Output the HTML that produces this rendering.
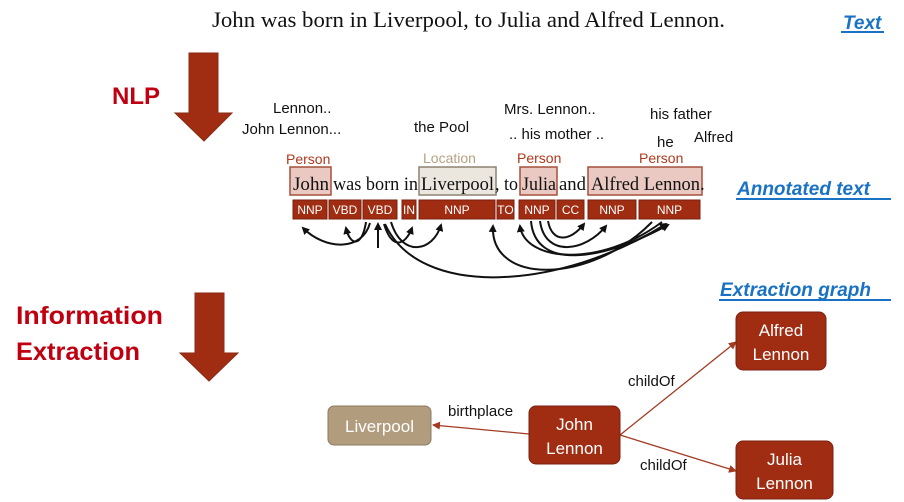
<!DOCTYPE html>
<html><head><meta charset="utf-8"><style>
html,body{margin:0;padding:0;background:#fff}
svg{display:block}
.s{font-family:"Liberation Serif",serif;fill:#111}
.c{font-family:"Liberation Sans",sans-serif}
</style></head><body>
<svg width="904" height="502" viewBox="0 0 904 502" xmlns="http://www.w3.org/2000/svg">
<defs>
<marker id="ab" markerWidth="8" markerHeight="8" refX="6" refY="4" orient="auto" markerUnits="userSpaceOnUse"><path d="M0,0 L8,4 L0,8 z" fill="#111"/></marker>
<marker id="ar" markerWidth="8" markerHeight="8" refX="7" refY="4" orient="auto" markerUnits="userSpaceOnUse"><path d="M0,0 L8,4 L0,8 z" fill="#a33a22"/></marker>
</defs>
<text class="s" x="212" y="27" font-size="22" textLength="513" lengthAdjust="spacingAndGlyphs">John was born in Liverpool, to Julia and Alfred Lennon.</text>
<text class="c" x="843" y="29" font-size="19" font-weight="bold" font-style="italic" fill="#1a72c4">Text</text>
<rect x="841" y="31" width="43" height="2" fill="#1a72c4"/>

<path d="M189,53 H218 V113 H232 L204,141 L175,113 H189 Z" fill="#a02d12" stroke="#8a2a14"/>
<path d="M195,293 H224 V353 H238 L209,381 L180,353 H195 Z" fill="#a02d12" stroke="#8a2a14"/>
<text class="c" x="112" y="104" font-size="24" font-weight="bold" fill="#c00010">NLP</text>
<text class="c" x="16" y="324" font-size="25" font-weight="bold" fill="#c00010" textLength="147" lengthAdjust="spacingAndGlyphs">Information</text>
<text class="c" x="16" y="360" font-size="25" font-weight="bold" fill="#c00010" textLength="124" lengthAdjust="spacingAndGlyphs">Extraction</text>

<g class="c" font-size="15" fill="#111">
<text x="273" y="113">Lennon..</text>
<text x="242" y="134">John Lennon...</text>
<text x="414" y="132">the Pool</text>
<text x="504" y="114">Mrs. Lennon..</text>
<text x="509" y="139">.. his mother ..</text>
<text x="650" y="119">his father</text>
<text x="657" y="147">he</text>
<text x="694" y="142">Alfred</text>
</g>
<g class="c" font-size="14">
<text x="286" y="164" fill="#b0381c">Person</text>
<text x="423" y="163" fill="#b8a184">Location</text>
<text x="517" y="163" fill="#b0381c">Person</text>
<text x="639" y="163" fill="#b0381c">Person</text>
</g>
<rect x="290" y="167" width="41" height="28" fill="#e9c9c1" stroke="#a6503a" stroke-width="1.5"/>
<rect x="419" y="167" width="77" height="28" fill="#ebe7df" stroke="#8c8271" stroke-width="1.5"/>
<rect x="520" y="167" width="37" height="28" fill="#e9c9c1" stroke="#a6503a" stroke-width="1.5"/>
<rect x="588" y="167" width="114" height="28" fill="#e9c9c1" stroke="#a6503a" stroke-width="1.5"/>
<g class="s" font-size="19">
<text x="293" y="190" textLength="36" lengthAdjust="spacingAndGlyphs">John</text>
<text x="333" y="190" textLength="85" lengthAdjust="spacingAndGlyphs">was born in</text>
<text x="421" y="190" textLength="73" lengthAdjust="spacingAndGlyphs">Liverpool</text>
<text x="495" y="190" textLength="23" lengthAdjust="spacingAndGlyphs">, to</text>
<text x="522" y="190" textLength="34" lengthAdjust="spacingAndGlyphs">Julia</text>
<text x="559" y="190" textLength="27" lengthAdjust="spacingAndGlyphs">and</text>
<text x="591" y="190" textLength="109" lengthAdjust="spacingAndGlyphs">Alfred Lennon</text>
<text x="700" y="190">.</text>
</g>
<g fill="#a02d12" stroke="#7a2010">
<rect x="293" y="200" width="34" height="19"/><rect x="329" y="200" width="32" height="19"/>
<rect x="363" y="200" width="34" height="19"/><rect x="402" y="200" width="14" height="19"/>
<rect x="419" y="200" width="76" height="19"/><rect x="497" y="200" width="17" height="19"/>
<rect x="519" y="200" width="36" height="19"/><rect x="557" y="200" width="27" height="19"/>
<rect x="588" y="200" width="48" height="19"/><rect x="639" y="200" width="61" height="19"/>
</g>
<g class="c" font-size="12" fill="#fff" text-anchor="middle">
<text x="310" y="214">NNP</text><text x="345" y="214">VBD</text><text x="380" y="214">VBD</text>
<text x="409" y="214">IN</text><text x="457" y="214">NNP</text><text x="505.5" y="214">TO</text>
<text x="537" y="214">NNP</text><text x="570.5" y="214">CC</text><text x="612" y="214">NNP</text>
<text x="669.5" y="214">NNP</text>
</g>
<g fill="none" stroke="#111" stroke-width="2" marker-end="url(#ab)">
<path d="M370,223 C362,252 325,250 303,228"/>
<path d="M366,222 C362,248 350,246 346,228"/>
<path d="M378,248 L378,224"/>
<path d="M384,224 C392,250 405,246 412,228"/>
<path d="M391,222 C402,258 433,252 441,225"/>
<path d="M385,224 C420,300 560,290 666,224"/>
<path d="M548,221 C552,243 570,242 584,224"/>
<path d="M540,221 C545,258 585,252 606,226"/>
<path d="M531,221 C535,270 600,262 668,225"/>
<path d="M662,222 C600,268 525,262 520,226"/>
<path d="M652,222 C590,285 490,285 493,226"/>
</g>
<g class="c" font-size="19" font-weight="bold" font-style="italic" fill="#1a72c4">
<text x="737" y="195">Annotated text</text>
<text x="720" y="296">Extraction graph</text>
</g>
<rect x="736" y="198" width="155" height="2" fill="#1a72c4"/>
<rect x="719" y="299" width="172" height="2" fill="#1a72c4"/>

<g stroke="#a33a22" stroke-width="1.3" fill="none" marker-end="url(#ar)">
<line x1="529" y1="434" x2="433" y2="425"/>
<line x1="620" y1="435" x2="736" y2="342"/>
<line x1="620" y1="435" x2="736" y2="471"/>
</g>
<rect x="328" y="406" width="103" height="39" rx="6" fill="#b19c7d" stroke="#8c7a60"/>
<rect x="529" y="406" width="91" height="58" rx="7" fill="#a02d12" stroke="#7a2010"/>
<rect x="736" y="312" width="90" height="58" rx="7" fill="#a02d12" stroke="#7a2010"/>
<rect x="736" y="441" width="97" height="58" rx="7" fill="#a02d12" stroke="#7a2010"/>
<g class="c" font-size="17" fill="#fff" text-anchor="middle">
<text x="379.5" y="432">Liverpool</text>
<text x="574.5" y="430">John</text><text x="574.5" y="454">Lennon</text>
<text x="781" y="336">Alfred</text><text x="781" y="360">Lennon</text>
<text x="784.5" y="465">Julia</text><text x="784.5" y="489">Lennon</text>
</g>
<g class="c" font-size="15" fill="#111">
<text x="448" y="416">birthplace</text>
<text x="628" y="386">childOf</text>
<text x="640" y="470">childOf</text>
</g>
</svg>
</body></html>
